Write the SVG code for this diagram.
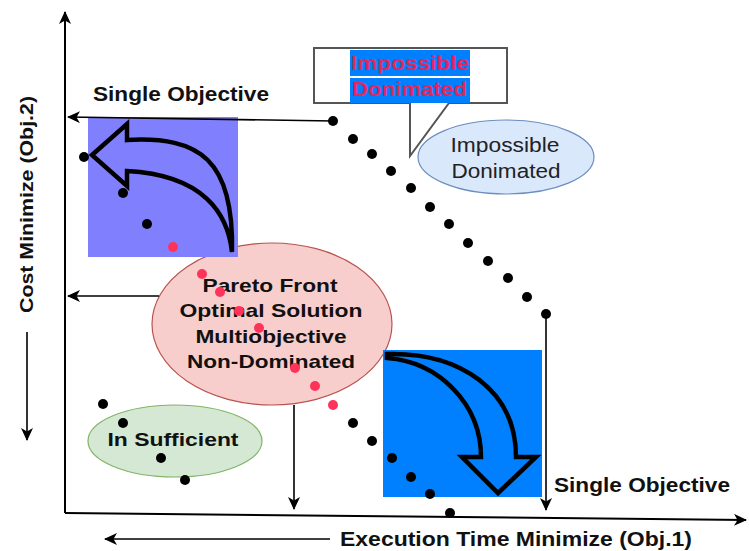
<svg xmlns="http://www.w3.org/2000/svg" width="749" height="551" viewBox="0 0 749 551">
<style>
.t{font-family:"Liberation Sans",Arial,sans-serif;font-weight:bold;fill:#111;}
.n{font-family:"Liberation Sans",Arial,sans-serif;fill:#222;}
.ax{stroke:#000;stroke-width:2;fill:none;}
.ln{stroke:#000;stroke-width:1.6;fill:none;}
.bd{fill:#000;}
.rd{fill:#ff3359;}
.ca{fill:none;stroke:#000;stroke-width:4.5;stroke-linejoin:miter;}
.rt{font-family:"Liberation Sans",Arial,sans-serif;font-weight:bold;fill:#e0285f;}
</style>
<defs>
<marker id="arr" markerUnits="userSpaceOnUse" markerWidth="14" markerHeight="12" refX="12" refY="6" orient="auto">
<path d="M0,0 L13,6 L0,12 L3.5,6 Z" fill="#000"/>
</marker>
</defs>
<rect width="749" height="551" fill="#fff"/>

<g id="pareto-front-shape">
<ellipse cx="272" cy="324" rx="120" ry="81" fill="#f8cecc" stroke="#b85450" stroke-width="1.2"/>
</g>

<g id="boxes">
<rect id="purple-box" x="88" y="117" width="150" height="140" fill="#8080ff"/>
<rect id="blue-box" x="383" y="350" width="159" height="147" fill="#007fff"/>
</g>

<g id="connectors">
<line class="ax" x1="65" y1="513" x2="65" y2="12" marker-end="url(#arr)"/>
<line class="ax" x1="65" y1="513" x2="746" y2="520" marker-end="url(#arr)"/>
<line class="ln" x1="27" y1="332" x2="27" y2="440" marker-end="url(#arr)"/>
<line class="ln" x1="330" y1="539" x2="105" y2="539" marker-end="url(#arr)"/>
<line class="ln" x1="333" y1="121" x2="68" y2="117" marker-end="url(#arr)"/>
<line class="ln" x1="159" y1="296" x2="68" y2="296" marker-end="url(#arr)"/>
<line class="ln" x1="294" y1="405" x2="294" y2="509" marker-end="url(#arr)"/>
<line class="ln" x1="546" y1="314" x2="546" y2="510" marker-end="url(#arr)"/>
</g>

<g id="curved-arrow-up">
<path class="ca" d="M92,155 L127,124 L127,140 C200,136 234,160 232,252 C228,215 205,175 127,171 L127,186 Z"/>
</g>
<g id="curved-arrow-down">
<path class="ca" d="M387,354 C460,352 516,390 516,457 L536,457 L498,493 L462,457 L481,457 C481,405 440,362 387,358 Z"/>
</g>

<g id="pareto-front">
<text class="t" font-size="19" x="270" y="292" text-anchor="middle" textLength="135" lengthAdjust="spacingAndGlyphs">Pareto Front</text>
<text class="t" font-size="19" x="271" y="317" text-anchor="middle" textLength="183" lengthAdjust="spacingAndGlyphs">Optimal Solution</text>
<text class="t" font-size="19" x="271" y="343" text-anchor="middle" textLength="151" lengthAdjust="spacingAndGlyphs">Multiobjective</text>
<text class="t" font-size="19" x="271" y="368" text-anchor="middle" textLength="168" lengthAdjust="spacingAndGlyphs">Non-Dominated</text>
</g>

<g id="insufficient">
<ellipse cx="175" cy="441" rx="87" ry="36" fill="#d5e8d4" stroke="#82b366" stroke-width="1.2"/>
<text class="t" font-size="19" x="173" y="446" text-anchor="middle" textLength="131" lengthAdjust="spacingAndGlyphs">In Sufficient</text>
</g>

<g id="impossible-ellipse">
<ellipse cx="506" cy="157" rx="88" ry="37" fill="#dae8fc" stroke="#6c8ebf" stroke-width="1.2"/>
<text class="n" font-size="20" x="505" y="152" text-anchor="middle" textLength="109" lengthAdjust="spacingAndGlyphs">Impossible</text>
<text class="n" font-size="20" x="506" y="178" text-anchor="middle" textLength="109" lengthAdjust="spacingAndGlyphs">Donimated</text>
</g>

<g id="callout">
<path d="M314,48 L507,48 L507,103 L449,103 L410,156 L410,103 L314,103 Z" fill="#fff" stroke="#555" stroke-width="2"/>
<rect x="350" y="50" width="120" height="26" fill="#007fff"/>
<rect x="350" y="78" width="120" height="25" fill="#007fff"/>
<text class="rt" font-size="20" x="351" y="70" textLength="118" lengthAdjust="spacingAndGlyphs">Impossible</text>
<text class="rt" font-size="20" x="352" y="96" textLength="115" lengthAdjust="spacingAndGlyphs">Donimated</text>
</g>

<g id="points">
<circle class="bd" cx="333" cy="121" r="5"/>
<circle class="bd" cx="353" cy="139" r="5"/>
<circle class="bd" cx="372" cy="154" r="5"/>
<circle class="bd" cx="391" cy="171" r="5"/>
<circle class="bd" cx="411" cy="188" r="5"/>
<circle class="bd" cx="430" cy="207" r="5"/>
<circle class="bd" cx="449" cy="224" r="5"/>
<circle class="bd" cx="468" cy="243" r="5"/>
<circle class="bd" cx="488" cy="261" r="5"/>
<circle class="bd" cx="508" cy="278" r="5"/>
<circle class="bd" cx="527" cy="297" r="5"/>
<circle class="bd" cx="546" cy="314" r="5"/>
<circle class="bd" cx="84" cy="157" r="5"/>
<circle class="bd" cx="123" cy="193" r="5"/>
<circle class="bd" cx="147" cy="224" r="5"/>
<circle class="rd" cx="173" cy="247" r="5"/>
<circle class="rd" cx="202" cy="274" r="5"/>
<circle class="rd" cx="220" cy="292" r="5"/>
<circle class="rd" cx="239" cy="311" r="5"/>
<circle class="rd" cx="259" cy="328" r="5"/>
<circle class="rd" cx="295" cy="368" r="5"/>
<circle class="rd" cx="315" cy="386" r="5"/>
<circle class="rd" cx="333" cy="405" r="5"/>
<circle class="bd" cx="353" cy="423" r="5"/>
<circle class="bd" cx="372" cy="441" r="5"/>
<circle class="bd" cx="392" cy="458" r="5"/>
<circle class="bd" cx="411" cy="477" r="5"/>
<circle class="bd" cx="430" cy="494" r="5"/>
<circle class="bd" cx="450" cy="513" r="5"/>
<circle class="bd" cx="103" cy="404" r="5"/>
<circle class="bd" cx="123" cy="423" r="5"/>
<circle class="bd" cx="161" cy="458" r="5"/>
<circle class="bd" cx="185" cy="480" r="5"/>
</g>

<g id="labels">
<text class="t" font-size="19.5" x="93" y="101" textLength="176" lengthAdjust="spacingAndGlyphs">Single Objective</text>
<text class="t" font-size="19.5" x="554" y="492" textLength="176" lengthAdjust="spacingAndGlyphs">Single Objective</text>
<text class="t" font-size="20" x="340" y="546" textLength="352" lengthAdjust="spacingAndGlyphs">Execution Time Minimize (Obj.1)</text>
<text class="t" font-size="19" transform="translate(33,313) rotate(-90)" x="0" y="0" textLength="217" lengthAdjust="spacingAndGlyphs">Cost Minimize (Obj.2)</text>
</g>
</svg>
